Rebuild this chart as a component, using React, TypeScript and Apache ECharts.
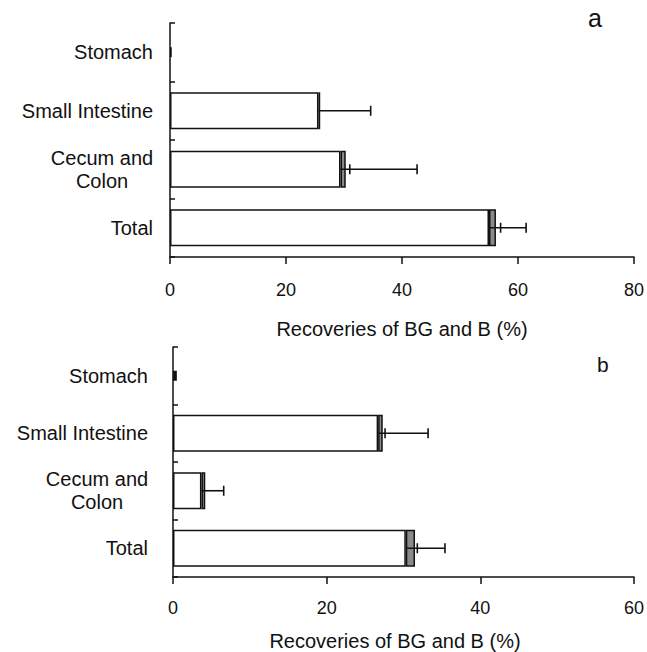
import React, { useEffect, useRef } from 'react';
import * as echarts from 'echarts';

const categories = ['Stomach', 'Small Intestine', 'Cecum and\nColon', 'Total'];
const axisName = 'Recoveries of BG and B (%)';

// Panel a
const bgA: (number | string)[] = ['-', 25.6, 29.4, 55.0];
const bA: (number | string)[] = ['-', 0.3, 0.9, 1.2];
const stomachA: (number | string)[] = [0.3, '-', '-', '-'];
const errSmallA = [0, 0, 1.6, 2.0];
const errLongA = [0, 8.7, 12.3, 5.2];

// Panel b
const bgB: (number | string)[] = ['-', 26.7, 3.7, 30.3];
const bB: (number | string)[] = ['-', 0.6, 0.5, 1.2];
const stomachB: (number | string)[] = [0.5, '-', '-', '-'];
const errSmallB = [0, 0.9, 0, 1.5];
const errLongB = [0, 5.9, 2.4, 3.9];

const FONT = 'Liberation Sans, Arial, sans-serif';
const INK = '#111';

function errData(bg: (number | string)[], b: (number | string)[], s: number[], l: number[]) {
  const out: number[][] = [];
  bg.forEach((v, i) => {
    if (typeof v === 'number') {
      const bv = typeof b[i] === 'number' ? (b[i] as number) : 0;
      out.push([i, v, v + bv, s[i], l[i]]);
    }
  });
  return out;
}

const renderErr = (params: any, api: any) => {
  const i = api.value(0);
  const w = api.value(1);
  const t = api.value(2);
  const s = api.value(3);
  const l = api.value(4);
  const p0 = api.coord([w, i]);
  const pL = api.coord([t + l, i]);
  const h = 5;
  const st = { stroke: INK, lineWidth: 1.6 };
  const children: any[] = [
    { type: 'line', shape: { x1: p0[0], y1: p0[1], x2: pL[0], y2: pL[1] }, style: st },
    { type: 'line', shape: { x1: pL[0], y1: pL[1] - h, x2: pL[0], y2: pL[1] + h }, style: st },
  ];
  if (s > 0) {
    const pS = api.coord([w + s, i]);
    children.push({ type: 'line', shape: { x1: pS[0], y1: pS[1] - h, x2: pS[0], y2: pS[1] + h }, style: st });
  }
  return { type: 'group', children };
};

function catAxis(gridIndex: number, margin: number) {
  return {
    gridIndex,
    type: 'category',
    data: categories,
    inverse: true,
    axisLine: { show: true, lineStyle: { color: INK, width: 1.5 } },
    axisTick: { show: true, inside: true, length: 5, lineStyle: { color: INK, width: 1.5 } },
    axisLabel: {
      margin,
      fontSize: 20,
      color: INK,
      fontFamily: FONT,
      formatter: (v: string) => (v.indexOf('\n') >= 0 ? v.split('\n').map((p) => `{c|${p}}`).join('\n') : v),
      rich: { c: { width: 102, align: 'center', fontSize: 20, lineHeight: 23, color: INK, fontFamily: FONT } },
    },
  };
}

function hiddenAxis(gridIndex: number) {
  return { gridIndex, type: 'category', data: categories, inverse: true, show: false };
}

function valAxis(gridIndex: number, max: number, labelMargin: number, nameGap: number, namePadRight: number) {
  return {
    gridIndex,
    type: 'value',
    min: 0,
    max,
    interval: 20,
    axisLine: { show: true, lineStyle: { color: INK, width: 1.5 } },
    axisTick: { show: true, inside: false, length: 7, lineStyle: { color: INK, width: 1.5 } },
    splitLine: { show: false },
    axisLabel: { fontSize: 18, color: INK, fontFamily: FONT, margin: labelMargin },
    name: axisName,
    nameLocation: 'middle',
    nameGap,
    nameTextStyle: { fontSize: 20, color: INK, fontFamily: FONT, padding: [0, namePadRight, 0, 0] },
  };
}

function barSeries(xi: number, yi: number, hy: number, stack: string, bg: any[], b: any[], stomach: any[], eS: number[], eL: number[]) {
  return [
    {
      type: 'bar', name: 'BG', xAxisIndex: xi, yAxisIndex: yi, stack, data: bg, barWidth: 37,
      itemStyle: { color: '#ffffff', borderColor: INK, borderWidth: 1.5 },
    },
    {
      type: 'bar', name: 'B', xAxisIndex: xi, yAxisIndex: yi, stack, data: b, barWidth: 37,
      itemStyle: { color: '#8a8a8a', borderColor: INK, borderWidth: 1.5 },
    },
    {
      type: 'bar', name: 'Stomach', xAxisIndex: xi, yAxisIndex: hy, data: stomach, barWidth: 10,
      itemStyle: { color: INK },
    },
    {
      type: 'custom', xAxisIndex: xi, yAxisIndex: yi, renderItem: renderErr,
      encode: { x: [1, 2], y: 0 }, data: errData(bg, b, eS, eL), z: 5,
    },
  ];
}

export default function App() {
  const ref = useRef<HTMLDivElement>(null);
  useEffect(() => {
    if (!ref.current) return;
    const chart = echarts.init(ref.current, undefined, { renderer: 'svg' });
    chart.setOption({
      animation: false,
      backgroundColor: '#ffffff',
      grid: [
        { left: 170, top: 23, width: 464, height: 234 },
        { left: 173, top: 347, width: 464, height: 230 },
      ],
      xAxis: [valAxis(0, 80, 24, 62, 0), valAxis(1, 60, 22, 54, 17)],
      yAxis: [catAxis(0, 17), hiddenAxis(0), catAxis(1, 25), hiddenAxis(1)],
      series: [
        ...barSeries(0, 0, 1, 'a', bgA, bA, stomachA, errSmallA, errLongA),
        ...barSeries(1, 2, 3, 'b', bgB, bB, stomachB, errSmallB, errLongB),
      ],
      graphic: [
        { type: 'text', x: 588, y: 18, style: { text: 'a', fontSize: 25, fontFamily: FONT, fill: INK, verticalAlign: 'middle' } },
        { type: 'text', x: 597, y: 364, style: { text: 'b', fontSize: 21, fontFamily: FONT, fill: INK, verticalAlign: 'middle' } },
      ],
    });
    return () => chart.dispose();
  }, []);
  return <div ref={ref} style={{ position: 'absolute', left: 0, top: 0, width: 647, height: 652 }} />;
}
